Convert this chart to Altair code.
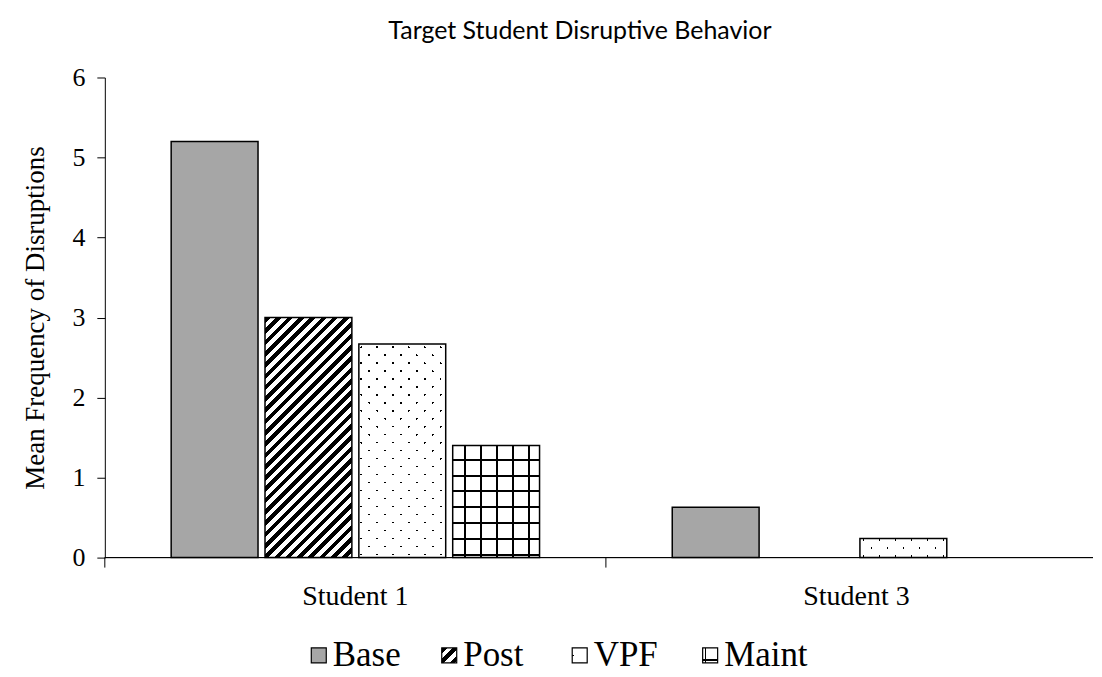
import math
import altair as alt
import pandas as pd

# ---------------- data ----------------
students = ["Student 1", "Student 3"]
phases = ["Base", "Post", "VPF", "Maint"]
student1_values = [5.2, 3.0, 2.67, 1.4]
student3_values = [0.63, 0.0, 0.24, 0.0]
y_ticks = [0, 1, 2, 3, 4, 5, 6]

rows = []
for s, vals in zip(students, [student1_values, student3_values]):
    for p, v in zip(phases, vals):
        rows.append({"student": s, "phase": p, "value": v})
df = pd.DataFrame(rows)
cat_df = pd.DataFrame({"student": students})

# ---------------- layout / style ----------------
W, H = 990, 481
X_RANGE = 1004          # category bands run a little past the visible frame
Y_MAX = 6
PAD_IN, PAD_OUT = 0.0745, 0.707
BAND = X_RANGE / len(students)
STEP = BAND / (len(phases) - PAD_IN + 2 * PAD_OUT)
BAR_W = STEP * (1 - PAD_IN)
SW = 15  # legend swatch side
GRAY = "#a6a6a6"
CLEAR = "rgba(255,255,255,0)"
SERIF = "Liberation Serif"


def stripes(w, h, kind, period, width, on, off, phase=0.0):
    """Linear gradient that draws hard-edged stripes inside a w x h box."""
    if kind in ("/", "\\"):
        c = (w + h) / (w * w + h * h)
        L = (w + h) / math.sqrt(2)
        if kind == "/":
            x1, y1, x2, y2 = 0, 0, c * w, c * h
        else:
            x1, y1, x2, y2 = 0, 1, c * w, 1 - c * h
    elif kind == "|":
        x1, y1, x2, y2, L = 0, 0, 1, 0, w
    else:
        x1, y1, x2, y2, L = 0, 0, 0, 1, h
    stops = []

    def add(pos, color):
        t = min(max(pos / L, 0.0), 1.0)
        stops.append({"offset": round(t, 5), "color": color})

    a = (phase % period) - period
    while a < L:
        add(a, on)
        add(a + width, on)
        add(a + width, off)
        add(a + period, off)
        a += period
    return {"gradient": "linear", "x1": x1, "y1": y1, "x2": x2, "y2": y2, "stops": stops}


def fills_for(phase, w, h, small=False):
    """List of (fill, with_stroke) layers that build the pattern of one phase."""
    if phase == "Base":
        return [(GRAY, True)]
    if phase == "Post":
        return [(stripes(w, h, "/", 8.0, 4.0, "black", "white"), True)]
    if phase == "VPF":
        ph = 5.0 if small else 3.0
        return [
            ("black", False),
            (stripes(w, h, "/", 11.3, 1.6, CLEAR, "white", ph), False),
            (stripes(w, h, "\\", 11.3, 1.6, CLEAR, "white", ph), True),
        ]
    # Maint: square grid
    if small:
        return [
            (stripes(w, h, "-", 16.0, 1.6, "black", "white", 11.0), False),
            (stripes(w, h, "|", 16.0, 1.6, "black", CLEAR, 2.0), True),
        ]
    return [
        (stripes(w, h, "-", 16.0, 2.0, "black", "white", 13.0), False),
        (stripes(w, h, "|", 16.0, 2.0, "black", CLEAR, 11.0), True),
    ]


# ---------------- main bar chart ----------------
x_scale = alt.Scale(domain=students, range=[0, X_RANGE], paddingInner=0, paddingOuter=0)

base = alt.Chart(df).encode(
    x=alt.X("student:N", sort=students, scale=x_scale, axis=None),
    xOffset=alt.XOffset(
        "phase:N", sort=phases,
        scale=alt.Scale(domain=phases, paddingInner=PAD_IN, paddingOuter=PAD_OUT),
    ),
    y=alt.Y(
        "value:Q",
        scale=alt.Scale(domain=[0, Y_MAX], nice=False),
        axis=alt.Axis(
            values=y_ticks, grid=False, title="Mean Frequency of Disruptions",
            tickSize=8, labelPadding=12, titlePadding=22,
            labelFont=SERIF, labelFontSize=26, labelColor="black",
            titleFont=SERIF, titleFontSize=27, titleFontWeight="normal", titleColor="black",
            domainColor="black", tickColor="black",
        ),
    ),
)

# category axis drawn by hand (line, ticks at band starts, labels at band centres)
axis_line = alt.Chart(cat_df).mark_rule(color="black", strokeWidth=1).encode(
    x=alt.value(0), x2=alt.value(W), y=alt.value(H)
)
axis_ticks = alt.Chart(cat_df).mark_rule(color="black", strokeWidth=1).encode(
    x=alt.X("student:N", sort=students, scale=x_scale, axis=None, bandPosition=0),
    y=alt.value(H),
    y2=alt.value(H + 10),
)
axis_labels = alt.Chart(cat_df).mark_text(
    baseline="top", font=SERIF, fontSize=28, color="black"
).encode(
    x=alt.X("student:N", sort=students, scale=x_scale, axis=None),
    y=alt.value(H + 25),
    text="student:N",
)

layers = [axis_line, axis_ticks, axis_labels]
for s, vals in zip(students, [student1_values, student3_values]):
    for p, v in zip(phases, vals):
        if v <= 0:
            continue
        h = v / Y_MAX * H
        for fill, with_stroke in fills_for(p, BAR_W, h):
            kw = {"fill": fill}
            if with_stroke:
                kw.update(stroke="black", strokeWidth=1.5)
            else:
                kw.update(strokeWidth=0)
            layers.append(
                base.mark_bar(**kw).transform_filter(
                    (alt.datum.student == s) & (alt.datum.phase == p)
                )
            )

top = alt.layer(*layers).properties(
    width=W,
    height=H,
    title=alt.TitleParams(
        "Target Student Disruptive Behavior",
        font="Lato", fontSize=25, fontWeight="normal", color="black",
        anchor="middle", dx=-19, offset=21,
    ),
)

# ---------------- legend ----------------
leg_df = pd.DataFrame({"phase": phases})
LEG_LO = 318 - 104 - 65
LEG_HI = LEG_LO + 4 * 130.7
leg_base = alt.Chart(leg_df).encode(
    x=alt.X(
        "phase:N", sort=phases, axis=None,
        scale=alt.Scale(domain=phases, range=[LEG_LO, LEG_HI], paddingInner=0, paddingOuter=0),
    )
)
leg_layers = []
for p in phases:
    for fill, with_stroke in fills_for(p, SW, SW, small=True):
        kw = {"fill": fill, "size": SW * SW, "opacity": 1, "filled": True}
        if with_stroke:
            kw.update(stroke="black", strokeWidth=1.2)
        else:
            kw.update(strokeWidth=0)
        leg_layers.append(
            leg_base.mark_square(**kw).transform_filter(alt.datum.phase == p)
        )
leg_layers.append(
    leg_base.mark_text(
        align="left", baseline="middle", dx=14, font=SERIF, fontSize=35, color="black"
    ).encode(text="phase:N")
)
legend = alt.layer(*leg_layers).properties(width=W, height=20)

chart = (
    alt.vconcat(top, legend, spacing=28)
    .properties(padding={"left": 14, "top": 10, "right": 0, "bottom": 0})
    .configure_view(stroke=None)
)

chart.save("out.html", embed_options={"renderer": "svg", "actions": False})
